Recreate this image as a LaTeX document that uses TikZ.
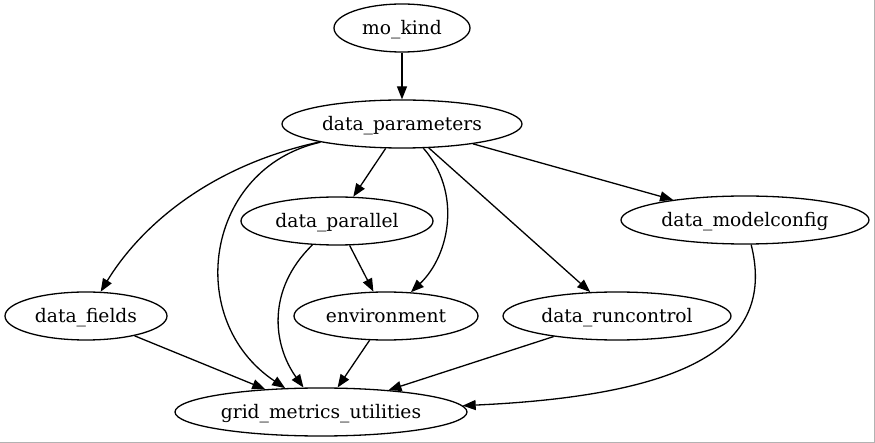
\documentclass[tikz,border=0pt]{standalone}
\usepackage{fontspec}
\setmainfont{DejaVu Serif}
\usetikzlibrary{arrows.meta,shapes.geometric}
\begin{document}
\begin{tikzpicture}[x=1pt,y=-1pt,
  nd/.style={draw,ellipse,line width=1.3pt,inner sep=0pt,minimum height=48pt,
    text height=14pt,text depth=1pt,
    font=\fontsize{18.67}{20}\selectfont},
  ed/.style={line width=1.3pt,-{Triangle[length=13pt,width=10pt]}}]
\useasboundingbox (0,0) rectangle (875,443);
\draw[gray!60,line width=1.2pt] (874.4,0) -- (874.4,442.4) -- (0,442.4);
\node[nd,minimum width=136pt] (mk) at (402,28) {mo\_kind};
\node[nd,minimum width=240pt] (dp) at (402,124) {data\_parameters};
\node[nd,minimum width=192pt] (dpl) at (337,221) {data\_parallel};
\node[nd,minimum width=248pt] (dmc) at (745,220) {data\_modelconfig};
\node[nd,minimum width=162pt] (df) at (86,316) {data\_fields};
\node[nd,minimum width=184pt] (env) at (386,316) {environment};
\node[nd,minimum width=228pt] (drc) at (617,316) {data\_runcontrol};
\node[nd,minimum width=292pt] (gm) at (321,412) {grid\_metrics\_utilities};
\draw[ed] (mk) -- (dp);
\draw[ed] (dp) .. controls (200,168) and (135,235) .. (df);
\draw[ed] (dp) .. controls (205,168) and (183,320) .. (gm);
\draw[ed] (dp) -- (dpl);
\draw[ed] (dp) .. controls (462,192) and (450,255) .. (env);
\draw[ed] (dp) -- (drc);
\draw[ed] (dp) -- (dmc);
\draw[ed] (dpl) -- (env);
\draw[ed] (dpl) .. controls (266,290) and (273,345) .. (gm);
\draw[ed] (dmc) .. controls (775,340) and (700,395) .. (gm);
\draw[ed] (df) -- (gm);
\draw[ed] (env) -- (gm);
\draw[ed] (drc) -- (gm);
\end{tikzpicture}
\end{document}
